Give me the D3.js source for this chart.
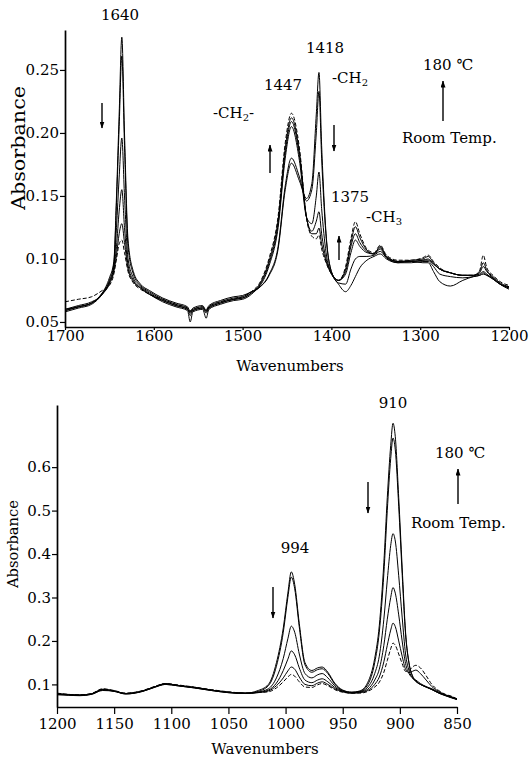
<!DOCTYPE html>
<html>
<head>
<meta charset="utf-8">
<script src="https://cdn.jsdelivr.net/npm/d3@7"></script>
<style>
  body { margin: 0; background: #fff; }
  svg text { font-family: "DejaVu Serif", "Liberation Serif", serif; fill: #000; }
</style>
</head>
<body>
<script>

// ---- top panel (1700 - 1200 cm-1) ----
var topWaves = [1700,1685,1670,1658,1650,1645,1642,1639,1636,1633,1629,1623,1615,1605,1590,1575,1562,1559,1556,1545,
  1541,1538,1525,1510,1500,1490,1480,1470,1460,1452,1445,1436,1428,1422,1417,1414,1411,1406,1400,1392,
  1384,1378,1373,1368,1360,1352,1345,1338,1325,1310,1297,1291,1285,1278,1266,1252,1240,1233,1229,1225,
  1218,1210,1200];

// room temp first, 180 C last
var topC0 = [0.059,0.062,0.065,0.073,0.085,0.098,0.15,0.215,0.276,0.2,
  0.115,0.09,0.08,0.075,0.069,0.065,0.062,0.058,0.061,0.063,
  0.059,0.063,0.067,0.07,0.071,0.074,0.078,0.087,0.108,0.155,
  0.176,0.162,0.148,0.16,0.215,0.248,0.19,0.12,0.09,0.08,
  0.074,0.079,0.086,0.093,0.099,0.102,0.104,0.1,0.097,0.098,
  0.097,0.097,0.09,0.082,0.0785,0.083,0.086,0.087,0.088,0.087,
  0.085,0.08,0.076];
var topC1 = [0.06,0.063,0.066,0.072,0.083,0.096,0.145,0.205,0.261,0.19,
  0.11,0.088,0.079,0.074,0.068,0.064,0.061,0.055,0.06,0.062,
  0.058,0.062,0.066,0.069,0.07,0.074,0.078,0.088,0.11,0.158,
  0.18,0.165,0.146,0.155,0.2,0.233,0.18,0.118,0.09,0.081,
  0.08,0.092,0.1,0.102,0.102,0.103,0.106,0.101,0.097,0.097,
  0.098,0.098,0.094,0.088,0.086,0.085,0.086,0.087,0.089,0.087,
  0.084,0.08,0.077];
var topC2 = [0.06,0.062,0.065,0.073,0.082,0.094,0.125,0.165,0.196,0.15,
  0.1,0.085,0.078,0.073,0.067,0.063,0.06,0.057,0.059,0.061,
  0.059,0.061,0.065,0.068,0.069,0.073,0.079,0.095,0.125,0.18,
  0.205,0.178,0.133,0.128,0.15,0.169,0.14,0.105,0.089,0.083,
  0.088,0.105,0.115,0.11,0.105,0.104,0.108,0.101,0.098,0.098,
  0.099,0.099,0.096,0.092,0.089,0.087,0.087,0.088,0.09,0.088,
  0.084,0.08,0.077];
var topC3 = [0.058,0.061,0.064,0.072,0.081,0.092,0.11,0.138,0.155,0.125,
  0.095,0.083,0.077,0.072,0.066,0.062,0.059,0.05,0.058,0.06,
  0.053,0.06,0.064,0.067,0.068,0.072,0.08,0.097,0.128,0.184,
  0.209,0.182,0.133,0.122,0.13,0.1375,0.12,0.1,0.089,0.083,
  0.09,0.11,0.12,0.113,0.106,0.104,0.109,0.102,0.098,0.098,
  0.099,0.1,0.096,0.092,0.089,0.087,0.087,0.089,0.094,0.09,
  0.085,0.08,0.078];
var topC4 = [0.059,0.062,0.065,0.072,0.08,0.09,0.103,0.12,0.128,0.113,
  0.092,0.082,0.077,0.072,0.067,0.063,0.06,0.058,0.059,0.061,
  0.057,0.061,0.065,0.068,0.069,0.073,0.081,0.099,0.131,0.188,
  0.212,0.185,0.133,0.12,0.12,0.1245,0.112,0.098,0.088,0.083,
  0.092,0.113,0.1256,0.117,0.107,0.104,0.11,0.102,0.098,0.099,
  0.1,0.102,0.097,0.092,0.089,0.087,0.087,0.09,0.097,0.091,
  0.086,0.081,0.078];
var topC5 = [0.066,0.068,0.07,0.075,0.079,0.088,0.1,0.112,0.115,0.105,
  0.09,0.081,0.076,0.072,0.068,0.064,0.061,0.059,0.06,0.062,
  0.06,0.062,0.066,0.068,0.07,0.074,0.082,0.101,0.134,0.192,
  0.2156,0.188,0.132,0.118,0.116,0.119,0.108,0.097,0.088,0.083,
  0.094,0.116,0.1296,0.12,0.108,0.105,0.111,0.103,0.099,0.099,
  0.101,0.103,0.098,0.093,0.089,0.087,0.087,0.091,0.103,0.093,
  0.087,0.082,0.079];

var topXTicks = [1700, 1600, 1500, 1400, 1300, 1200];
var topYTicks = [0.05, 0.10, 0.15, 0.20, 0.25];

// ---- bottom panel (1200 - 850 cm-1) ----
var botWaves = [1200,1190,1180,1170,1160,1150,1140,1125,1115,1105,1095,1080,1065,1050,1035,1025,1015,1008,1002,998,
  995,992,988,983,977,972,968,963,957,950,942,935,928,922,918,914,911,908,906,904,
  901,898,895,892,889,886,882,877,872,866,860,855,850];

var botC0 = [0.078,0.076,0.075,0.078,0.088,0.084,0.079,0.085,0.094,0.101,
  0.098,0.093,0.087,0.082,0.08,0.085,0.1,0.15,0.23,0.31,
  0.359,0.33,0.24,0.15,0.132,0.138,0.14,0.128,0.103,0.087,
  0.082,0.085,0.105,0.16,0.235,0.38,0.53,0.65,0.701,0.67,
  0.53,0.37,0.22,0.15,0.12,0.108,0.1,0.094,0.088,0.08,
  0.074,0.07,0.066];
var botC1 = [0.077,0.076,0.075,0.077,0.087,0.085,0.078,0.084,0.093,0.1,
  0.097,0.092,0.086,0.081,0.079,0.083,0.097,0.142,0.22,0.3,
  0.347,0.32,0.232,0.145,0.128,0.134,0.136,0.125,0.101,0.086,
  0.082,0.084,0.1,0.15,0.22,0.355,0.5,0.62,0.667,0.64,
  0.51,0.355,0.215,0.148,0.119,0.107,0.1,0.094,0.088,0.08,
  0.074,0.069,0.065];
var botC2 = [0.079,0.077,0.076,0.078,0.089,0.085,0.079,0.085,0.094,0.101,
  0.098,0.093,0.087,0.082,0.08,0.082,0.09,0.115,0.16,0.205,
  0.234,0.22,0.17,0.125,0.115,0.122,0.125,0.115,0.097,0.085,
  0.081,0.083,0.094,0.125,0.165,0.25,0.34,0.42,0.447,0.43,
  0.35,0.255,0.17,0.132,0.115,0.107,0.1,0.094,0.089,0.081,
  0.075,0.07,0.066];
var botC3 = [0.076,0.075,0.074,0.077,0.086,0.084,0.078,0.084,0.093,0.1,
  0.097,0.092,0.086,0.081,0.079,0.081,0.087,0.103,0.132,0.158,
  0.177,0.168,0.138,0.11,0.104,0.11,0.113,0.106,0.093,0.084,
  0.08,0.082,0.089,0.11,0.135,0.19,0.25,0.3,0.323,0.31,
  0.26,0.2,0.148,0.125,0.115,0.11,0.102,0.095,0.09,0.082,
  0.075,0.071,0.066];
var botC4 = [0.078,0.076,0.075,0.078,0.088,0.085,0.079,0.085,0.094,0.102,
  0.098,0.093,0.087,0.082,0.08,0.081,0.085,0.097,0.115,0.131,
  0.14,0.135,0.117,0.1,0.097,0.103,0.106,0.1,0.09,0.083,
  0.08,0.081,0.086,0.1,0.117,0.152,0.19,0.225,0.241,0.233,
  0.2,0.165,0.135,0.127,0.13,0.133,0.125,0.11,0.095,0.084,
  0.076,0.072,0.065];
var botC5 = [0.08,0.077,0.076,0.079,0.09,0.086,0.08,0.086,0.095,0.102,
  0.099,0.094,0.088,0.083,0.08,0.081,0.083,0.092,0.106,0.117,
  0.123,0.119,0.106,0.094,0.093,0.099,0.102,0.097,0.088,0.082,
  0.08,0.08,0.084,0.094,0.105,0.128,0.155,0.182,0.195,0.19,
  0.17,0.148,0.13,0.132,0.14,0.144,0.138,0.12,0.1,0.086,
  0.077,0.073,0.067];

var botXTicks = [1200, 1150, 1100, 1050, 1000, 950, 900, 850];
var botYTicks = [0.1, 0.2, 0.3, 0.4, 0.5, 0.6];


var W = 529, H = 759;

var svg = d3.select("body").append("svg")
  .attr("width", W).attr("height", H);

svg.append("rect").attr("width", W).attr("height", H).style("fill", "#fff");

// arrow head
svg.append("defs").append("marker")
  .attr("id", "head")
  .attr("viewBox", "0 0 7 5")
  .attr("refX", 6.5).attr("refY", 2.5)
  .attr("markerWidth", 7).attr("markerHeight", 5)
  .attr("markerUnits", "userSpaceOnUse")
  .attr("orient", "auto")
  .append("path").attr("d", "M0,0 L7,2.5 L0,5 z").style("fill", "#000");

var draw_panel = function(p) {
  var x = d3.scaleLinear().domain(p.xDomain).range(p.xRange);
  var y = d3.scaleLinear().domain(p.yDomain).range(p.yRange);

  var g = svg.append("g");

  // spectra
  var line = d3.line()
    .x(function(d) { return x(d[0]); })
    .y(function(d) { return y(d[1]); })
    .curve(d3.curveMonotoneX);

  p.curves.forEach(function(c, i) {
    var pts = p.waves.map(function(w, k) { return [w, c[k]]; });
    g.append("path").datum(pts)
      .attr("d", line)
      .style("fill", "none")
      .style("stroke", "#000")
      .style("stroke-width", 1)
      .style("stroke-dasharray", i == p.curves.length - 1 ? "4,2" : null);
  });

  // axes
  var xa = g.append("g")
    .attr("transform", "translate(0," + p.yRange[0] + ")")
    .call(d3.axisBottom(x).tickValues(p.xTicks).tickSize(p.xTickSize)
      .tickSizeOuter(0).tickPadding(p.xPad).tickFormat(d3.format("d")));
  var ya = g.append("g")
    .attr("transform", "translate(" + p.xRange[0] + ",0)")
    .call(d3.axisLeft(y).tickValues(p.yTicks).tickSize(5)
      .tickSizeOuter(0).tickPadding(p.yPad).tickFormat(d3.format(p.yFmt)));

  [xa, ya].forEach(function(a) {
    a.select(".domain").style("stroke", "#000").style("stroke-width", 1.7);
    a.selectAll(".tick line").style("stroke", "#000").style("stroke-width", 1.2);
    a.selectAll(".tick text").style("font-size", "15px")
      .style("font-family", "DejaVu Serif, serif").style("fill", "#000");
  });

  // axis titles
  g.append("text")
    .attr("x", p.xTitle[0]).attr("y", p.xTitle[1])
    .attr("text-anchor", "middle")
    .style("font-size", "15px")
    .text("Wavenumbers");
  g.append("text")
    .attr("transform", "translate(" + p.yTitle[0] + "," + p.yTitle[1] + ") rotate(-90)")
    .attr("text-anchor", "middle")
    .attr("textLength", p.yTitleLen)
    .attr("lengthAdjust", "spacingAndGlyphs")
    .style("font-size", p.yTitleSize + "px")
    .text("Absorbance");
};

var place_text = function(txt, x, y, anchor) {
  svg.append("text").attr("x", x).attr("y", y)
    .attr("text-anchor", anchor || "start")
    .style("font-size", "15px")
    .text(txt);
};

// text with subscript digit, e.g. -CH2-
var place_chem = function(x, y, head, sub, tail) {
  var t = svg.append("text").attr("x", x).attr("y", y).style("font-size", "15px");
  t.append("tspan").text(head);
  t.append("tspan").attr("dy", 3).style("font-size", "10px").text(sub);
  if (tail) t.append("tspan").attr("dy", -3).text(tail);
};

var place_arrow = function(x, y_from, y_to) {
  svg.append("line")
    .attr("x1", x).attr("x2", x).attr("y1", y_from).attr("y2", y_to)
    .style("stroke", "#000").style("stroke-width", 1.4)
    .attr("marker-end", "url(#head)");
};

draw_panel({
  waves: topWaves,
  curves: [topC0, topC1, topC2, topC3, topC4, topC5],
  xDomain: [1700, 1200], xRange: [65, 509],
  yDomain: [0.046, 0.2817], yRange: [327, 30],
  xTicks: topXTicks, yTicks: topYTicks, yFmt: ".2f",
  xTickSize: 3, xPad: 0, yPad: 1,
  xTitle: [290, 371], yTitle: [25, 148], yTitleSize: 19, yTitleLen: 124
});

draw_panel({
  waves: botWaves,
  curves: [botC0, botC1, botC2, botC3, botC4, botC5],
  xDomain: [1200, 850], xRange: [57, 457],
  yDomain: [0.048, 0.743], yRange: [707, 405],
  xTicks: botXTicks, yTicks: botYTicks, yFmt: ".1f",
  xTickSize: 7, xPad: 4, yPad: 1,
  xTitle: [265, 754], yTitle: [18, 544], yTitleSize: 15, yTitleLen: 88
});

// top panel labels
place_text("1640", 120, 20, "middle");
place_text("1447", 283, 90, "middle");
place_text("1418", 325, 53, "middle");
place_text("1375", 350, 202, "middle");
place_chem(213, 118, "-CH", "2", "-");
place_chem(332, 83, "-CH", "2");
place_chem(366, 222, "-CH", "3");
place_text("180 \u2103", 423, 70);
place_text("Room Temp.", 402, 143);
place_arrow(102, 103, 128);
place_arrow(270, 173, 145);
place_arrow(334, 125, 151);
place_arrow(339, 260, 236);
place_arrow(443, 121, 81);

// bottom panel labels
place_text("910", 393, 408, "middle");
place_text("994", 295, 553, "middle");
place_text("180 \u2103", 435, 458);
place_text("Room Temp.", 411, 528);
place_arrow(368, 482, 513);
place_arrow(273, 587, 618);
place_arrow(458, 504, 469);

</script>
</body>
</html>
